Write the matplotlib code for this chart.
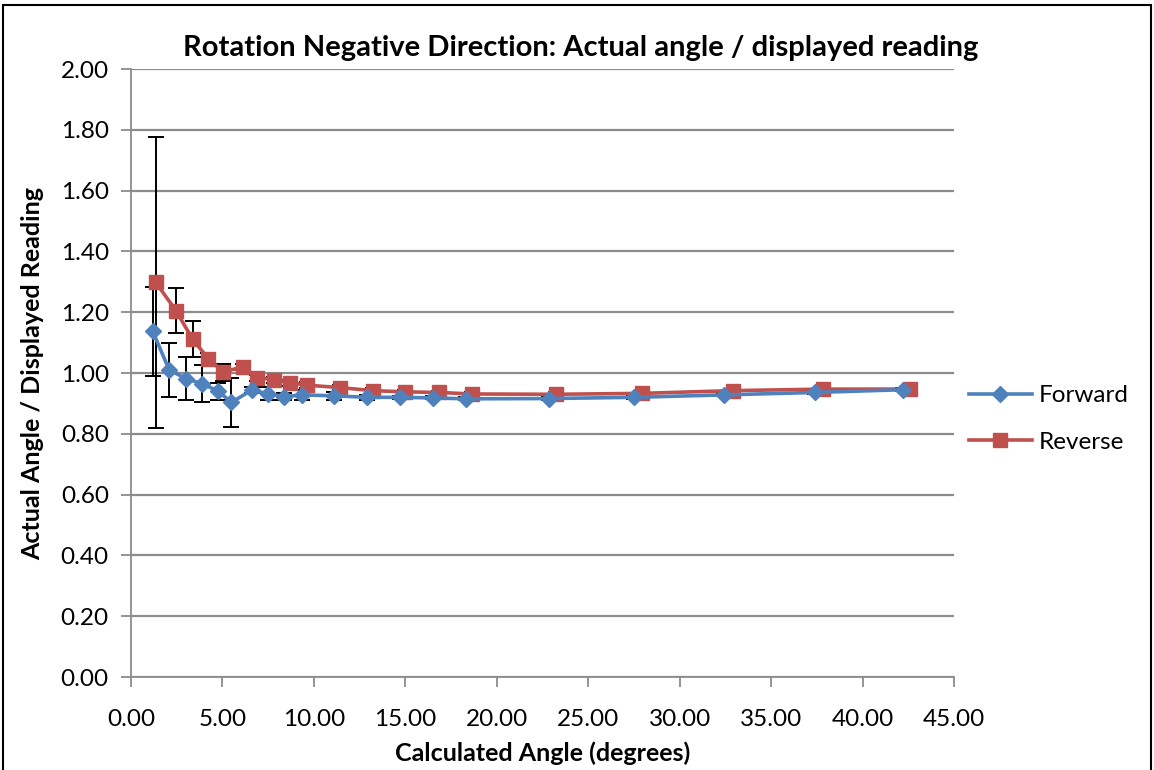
import matplotlib
matplotlib.use('Agg')
import matplotlib.pyplot as plt
from matplotlib.patches import Rectangle

plt.rcParams['font.family'] = ['Lato', 'DejaVu Sans']

# data
fwd_x = [1.19, 2.08, 3.01, 3.89, 4.77, 5.49, 6.60, 7.50, 8.36, 9.33, 11.08, 12.91, 14.70, 16.53, 18.30, 22.87, 27.50, 32.44, 37.40, 42.20]
fwd_y = [1.137, 1.011, 0.981, 0.965, 0.940, 0.904, 0.943, 0.932, 0.922, 0.928, 0.925, 0.920, 0.920, 0.918, 0.915, 0.916, 0.920, 0.928, 0.936, 0.945]
fwd_err = [0.146, 0.089, 0.070, 0.062, 0.028, 0.080, 0.010, 0.021, 0.011, 0.017, 0.014, 0.009, 0.005, 0.005, 0.005, 0.005, 0.005, 0.005, 0.005, 0.005]

rev_x = [1.35, 2.46, 3.37, 4.23, 5.05, 6.14, 6.90, 7.80, 8.71, 9.62, 11.43, 13.21, 14.98, 16.86, 18.64, 23.22, 27.92, 32.90, 37.85, 42.60]
rev_y = [1.298, 1.205, 1.111, 1.047, 1.003, 1.021, 0.985, 0.978, 0.968, 0.960, 0.952, 0.942, 0.938, 0.936, 0.931, 0.930, 0.933, 0.942, 0.947, 0.947]
rev_err = [0.478, 0.073, 0.060, 0.020, 0.028, 0.010, 0.010, 0.010, 0.010, 0.010, 0.008, 0.008, 0.006, 0.006, 0.006, 0.006, 0.006, 0.006, 0.006, 0.006]

xticks = [0, 5, 10, 15, 20, 25, 30, 35, 40, 45]
yticks = [0, 0.2, 0.4, 0.6, 0.8, 1.0, 1.2, 1.4, 1.6, 1.8, 2.0]

blue = '#4F81BD'
red = '#C0504D'
grey = '#8C8C8C'

fig = plt.figure(figsize=(11.54, 7.70), dpi=100)
ax = fig.add_axes([131/1154, 1-677/770, (954-131)/1154, (677-69)/770])

# error bars first so the markers sit on top
ax.errorbar(fwd_x, fwd_y, yerr=fwd_err, fmt='none', ecolor='black', elinewidth=1.4, capsize=5.5, capthick=1.4, zorder=2)
ax.errorbar(rev_x, rev_y, yerr=rev_err, fmt='none', ecolor='black', elinewidth=1.4, capsize=5.5, capthick=1.4, zorder=2)

ax.plot(fwd_x, fwd_y, color=blue, lw=2.6, marker='D', ms=8.5, label='Forward', zorder=4)
ax.plot(rev_x, rev_y, color=red, lw=2.6, marker='s', ms=10, label='Reverse', zorder=3)

ax.set_xlim(0, 45)
ax.set_ylim(0, 2.0)
ax.set_xticks(xticks)
ax.set_yticks(yticks)
ax.set_xticklabels(['%.2f' % v for v in xticks])
ax.set_yticklabels(['%.2f' % v for v in yticks])
ax.tick_params(axis='both', labelsize=17.5, color=grey, width=1.3, length=7, direction='out')
ax.tick_params(axis='x', pad=16)
ax.tick_params(axis='y', pad=9)

ax.grid(axis='y', color=grey, lw=1.6)
ax.set_axisbelow(True)
for s in ['top', 'right']:
    ax.spines[s].set_visible(False)
ax.spines['left'].set_color(grey)
ax.spines['bottom'].set_color(grey)
ax.spines['left'].set_linewidth(1.3)
ax.spines['bottom'].set_linewidth(1.3)

# title is centred on the whole chart, not the plot area
fig.text(581/1154, 1-48/770, 'Rotation Negative Direction: Actual angle / displayed reading', fontsize=21, fontweight='bold', ha='center', va='center')
ax.set_xlabel('Calculated Angle (degrees)', fontsize=18, fontweight='bold', labelpad=8)
ax.set_ylabel('Actual Angle / Displayed Reading', fontsize=18, fontweight='bold', labelpad=12)

ax.legend(loc='center left', bbox_to_anchor=(1.0, 0.424), frameon=False, fontsize=17.5, handlelength=2.6, labelspacing=1.05, handletextpad=0.3, borderaxespad=0.2)

# chart frame
fig.patches.append(Rectangle((0.003, -0.01), 0.994, 1.004, transform=fig.transFigure, fill=False, edgecolor='black', lw=1.5))

fig.savefig('out.png', dpi=100)
